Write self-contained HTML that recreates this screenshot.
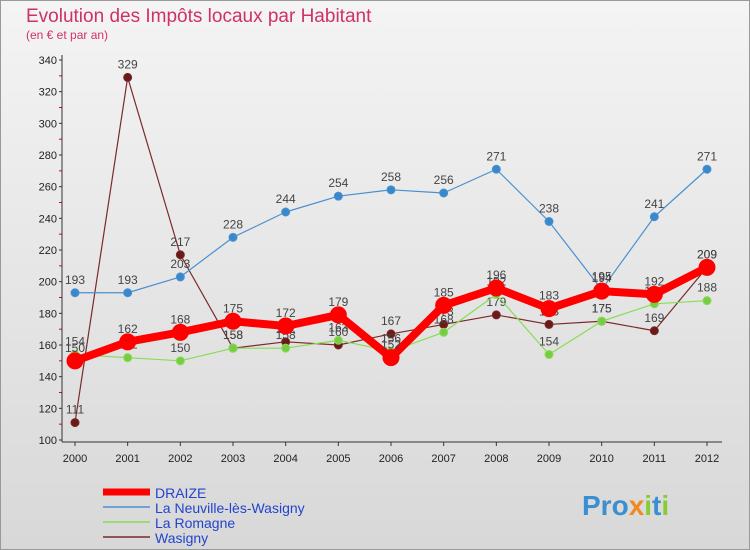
<!DOCTYPE html>
<html><head><meta charset="utf-8"><style>
body{margin:0;background:#fff;font-family:"Liberation Sans",sans-serif}
#wrap{width:750px;height:550px;position:relative;overflow:hidden}
</style></head><body>
<div id="wrap">
<svg id="chart" width="750" height="550">
<defs><linearGradient id="bg" x1="0" y1="0" x2="0" y2="1"><stop offset="0" stop-color="#f4f4f4"/><stop offset="1" stop-color="#d8d8d8"/></linearGradient></defs>
<rect x="0.5" y="0.5" width="749" height="549" fill="url(#bg)" stroke="#999"/>
<text x="26" y="22" font-size="19" fill="#d0306a">Evolution des Impôts locaux par Habitant</text>
<text x="26" y="39" font-size="12" fill="#d0306a">(en € et par an)</text>
<g id="axes"></g><g id="series"></g>
<g>
<line x1="103" y1="492" x2="150" y2="492" stroke="#f00" stroke-width="7"/>
<text x="155" y="498" font-size="14" fill="#2244cc">DRAIZE</text>
<line x1="103" y1="507" x2="150" y2="507" stroke="#4a90d0" stroke-width="1.5"/>
<text x="155" y="513" font-size="14" fill="#2244cc">La Neuville-lès-Wasigny</text>
<line x1="103" y1="522" x2="150" y2="522" stroke="#88dd55" stroke-width="1.5"/>
<text x="155" y="528" font-size="14" fill="#2244cc">La Romagne</text>
<line x1="103" y1="537" x2="150" y2="537" stroke="#7a2a2a" stroke-width="1.5"/>
<text x="155" y="543" font-size="14" fill="#2244cc">Wasigny</text>
</g>
<text x="582" y="515" font-size="28" font-weight="bold" fill="#3a8fd0">Pro<tspan fill="#f08a20">x</tspan><tspan fill="#88cc33">i</tspan><tspan fill="#3a8fd0">t</tspan><tspan fill="#88cc33">i</tspan></text>
</svg></div>
<script>
const years=[2000,2001,2002,2003,2004,2005,2006,2007,2008,2009,2010,2011,2012];
const yTicks=[100,120,140,160,180,200,220,240,260,280,300,320,340];
const draize=[150,162,168,175,172,179,152,185,196,183,194,192,209];
const neuville=[193,193,203,228,244,254,258,256,271,238,195,241,271];
const romagne=[154,152,150,158,158,163,156,168,192,154,175,186,188];
const wasigny=[111,329,217,158,162,160,167,173,179,173,175,169,209];
const NS="http://www.w3.org/2000/svg";
function X(i){return 75+i*(707-75)/(years.length-1);}
function Y(v){return 440-(v-100)*(380/240);}
function mk(t,a,p){const e=document.createElementNS(NS,t);for(const k in a)e.setAttribute(k,a[k]);p.appendChild(e);return e;}
const ax=document.getElementById('axes'),sg=document.getElementById('series');
yTicks.forEach(v=>{
 const l=mk('line',{x1:59,x2:62,y1:Y(v),y2:Y(v),stroke:'#333','stroke-width':1},ax);
 
 if(v<340){const m=mk('line',{x1:59,x2:62,y1:Y(v+10),y2:Y(v+10),stroke:'#e00','stroke-width':1},ax);
 }
 const t=mk('text',{x:57,y:Y(v)+4,'text-anchor':'end','font-size':11,fill:'#222'},ax);t.textContent=v;
 
});
years.forEach((y,i)=>{
 const l=mk('line',{x1:X(i),x2:X(i),y1:442,y2:446,stroke:'#333','stroke-width':1},ax);
 
 const t=mk('text',{x:X(i),y:462,'text-anchor':'middle','font-size':11,fill:'#222'},ax);t.textContent=y;
 
});
const a1=mk('line',{x1:62,x2:62,y1:55,y2:442,stroke:'#333'},ax);
const a2=mk('line',{x1:62,x2:722,y1:442,y2:442,stroke:'#333'},ax);
function series(name,data,color,w,r,dot){
 const g=mk('g',{},sg);
 const p=mk('polyline',{points:data.map((v,i)=>X(i)+','+Y(v)).join(' '),fill:'none',stroke:color,'stroke-width':w,'stroke-linejoin':'round'},g);
 
 data.forEach((v,i)=>{
  const c=mk('circle',{cx:X(i),cy:Y(v),r:r,fill:dot,stroke:color,'stroke-width':1},g);
  
  const t=mk('text',{x:X(i),y:Y(v)-9,'text-anchor':'middle','font-size':12,fill:'#444'},g);t.textContent=v;
  
 });
}
series('wasigny',wasigny,'#7a2a2a',1.2,4,'#6b1a1a');
series('romagne',romagne,'#88dd55',1.2,4,'#77cc44');
series('neuville',neuville,'#4a90d0',1.2,4,'#3a88cc');
series('draize',draize,'#ff0000',8,8,'#ff0000');
</script></body></html>
